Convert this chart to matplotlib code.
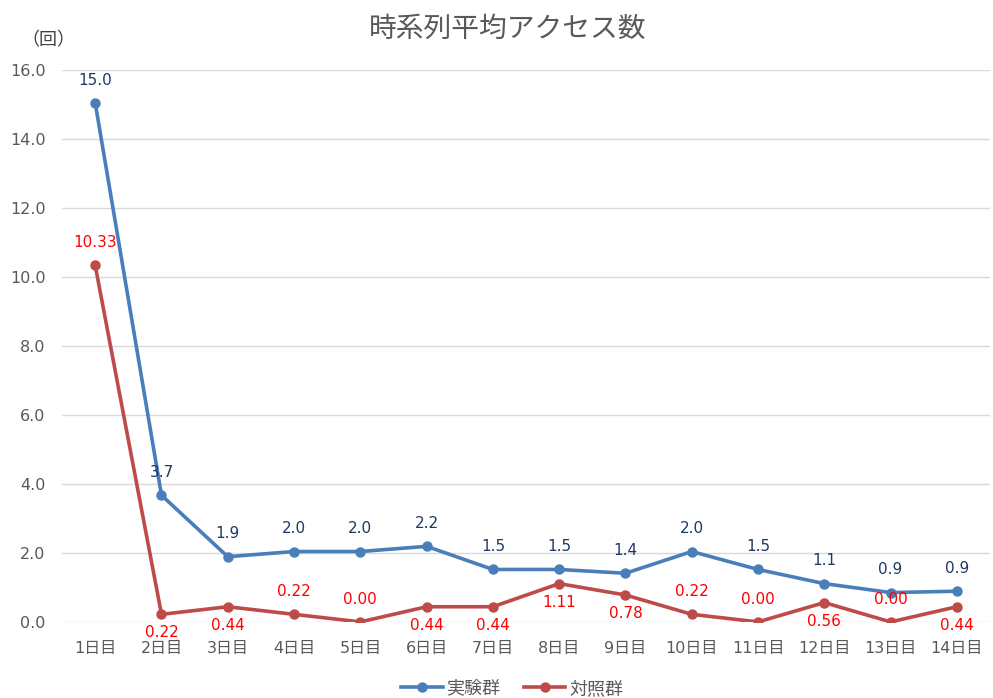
import matplotlib.pyplot as plt

# DejaVu first for the wide digits, Noto CJK picks up the Japanese glyphs
plt.rcParams['font.family'] = ['DejaVu Sans', 'Noto Sans CJK JP']

days = ['1日目', '2日目', '3日目', '4日目', '5日目', '6日目', '7日目',
        '8日目', '9日目', '10日目', '11日目', '12日目', '13日目', '14日目']
exp_values = [15.04, 3.67, 1.89, 2.04, 2.04, 2.19, 1.52, 1.52, 1.41, 2.04, 1.52, 1.11, 0.85, 0.89]
ctrl_values = [10.33, 0.22, 0.44, 0.22, 0.00, 0.44, 0.44, 1.11, 0.78, 0.22, 0.00, 0.56, 0.00, 0.44]
exp_labels = ['15.0', '3.7', '1.9', '2.0', '2.0', '2.2', '1.5', '1.5', '1.4', '2.0', '1.5', '1.1', '0.9', '0.9']
# where the control label sits: 1 = above the point, -1 = below
ctrl_side = [1, -1, -1, 1, 1, -1, -1, -1, -1, 1, 1, -1, 1, -1]

fig = plt.figure(figsize=(9.93, 6.98), dpi=100)
ax = fig.add_axes([0.0625, 0.109, 0.9345, 0.791])

x = range(len(days))
ax.plot(x, exp_values, color='#4A7EBB', lw=2.6, marker='o', ms=6.5, label='実験群', zorder=3)
ax.plot(x, ctrl_values, color='#BE4B48', lw=2.6, marker='o', ms=6.5, label='対照群', zorder=3)

for i, (v, s) in enumerate(zip(exp_values, exp_labels)):
    ax.annotate(s, (i, v), xytext=(0, 11), textcoords='offset points',
                ha='center', va='bottom', fontsize=11, color='#1F3864')
for i, v in enumerate(ctrl_values):
    off = 11 if ctrl_side[i] > 0 else -8
    ax.annotate(f'{v:.2f}', (i, v), xytext=(0, off), textcoords='offset points',
                ha='center', va='bottom' if off > 0 else 'top', fontsize=11, color='#FF0000')

ax.set_xlim(-0.5, len(days) - 0.5)
ax.set_ylim(0, 16)
ax.set_yticks([0, 2, 4, 6, 8, 10, 12, 14, 16])
ax.set_yticklabels([f'{t:.1f}' for t in ax.get_yticks()])
ax.set_xticks(list(x))
ax.set_xticklabels(days)
ax.tick_params(axis='both', length=0, labelsize=11.5, labelcolor='#595959')
ax.tick_params(axis='x', pad=14)
ax.tick_params(axis='y', pad=12)
ax.grid(axis='y', color='#D9D9D9', lw=1)
ax.set_axisbelow(True)
for sp in ax.spines.values():
    sp.set_visible(False)

fig.text(0.511, 0.959, '時系列平均アクセス数', ha='center', va='center', fontsize=20,
         color='#595959', family='Noto Sans CJK JP')
fig.text(0.049, 0.942, '（回）', ha='center', va='center', fontsize=13, color='#404040',
         family='Noto Sans CJK JP')

ax.legend(loc='center', bbox_to_anchor=(0.485, -0.121), ncol=2, frameon=False,
          fontsize=13, labelcolor='#595959', handlelength=2.3, handletextpad=0.2,
          columnspacing=1.3, borderpad=0)

fig.savefig('out.png', dpi=100)
